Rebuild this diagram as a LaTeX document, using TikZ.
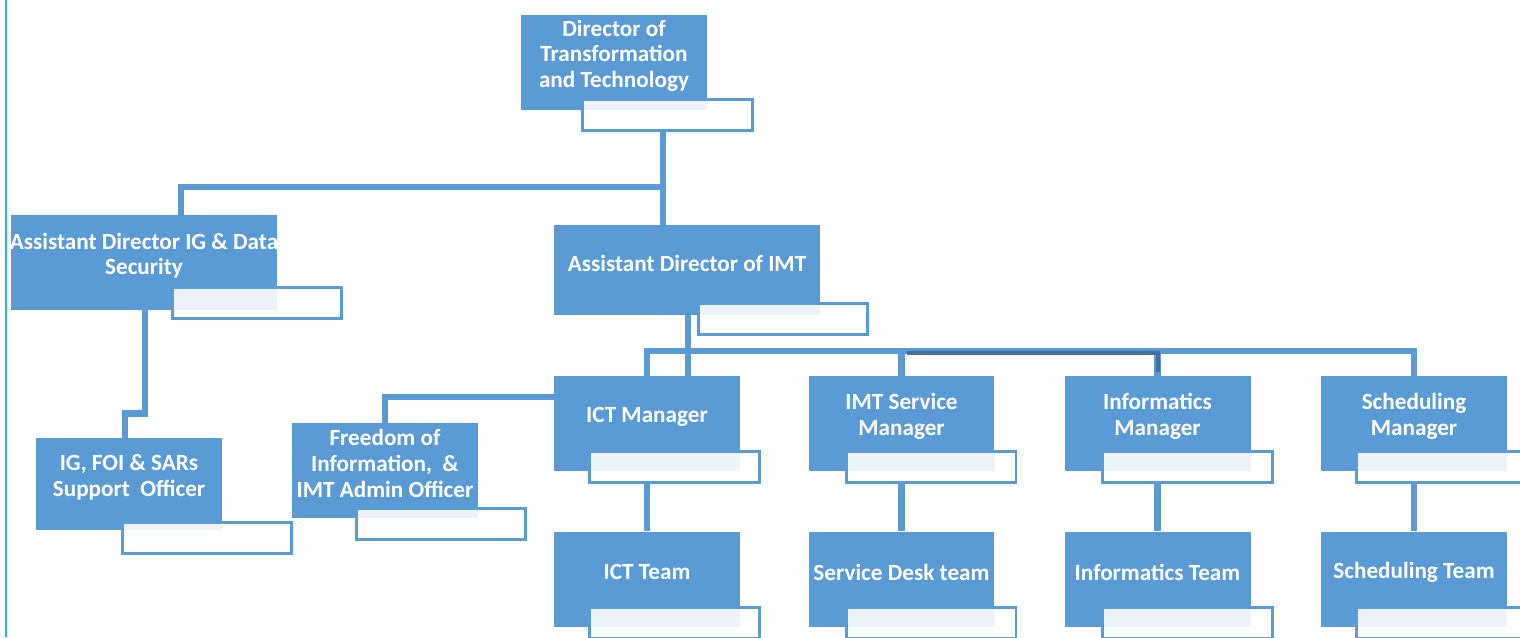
\documentclass[tikz,border=0pt]{standalone}
\usepackage{fontspec}
\setmainfont{Carlito}
\definecolor{unitblue}{HTML}{5B9BD5}
\definecolor{unitdark}{HTML}{41719C}
\definecolor{namefill}{HTML}{EEF3FA}
\definecolor{edgecyan}{HTML}{22B0F0}
\tikzset{
    unit/.style={fill=unitblue, inner sep=0pt,
        minimum width=3.72cm, minimum height=1.9cm},
    wide/.style={minimum width=5.32cm},
    unit text/.style={text=white, align=center, yshift=0.14cm,
        font=\bfseries\fontsize{13.2}{14.6}\selectfont},
    namebox/.style={draw=unitblue, line width=0.06cm, fill=white,
        inner sep=0pt, minimum width=3.4cm, minimum height=0.62cm},
    link/.style={draw=unitblue, line width=0.13cm}
}
\begin{document}
\begin{tikzpicture}[x=0.02cm, y=-0.02cm]

    \useasboundingbox (0,0) rectangle (1520,637);
    \clip (0,0) rectangle (1520,637);
    \draw[edgecyan, line width=0.05cm] (6,0) -- (6,637);

    % top levels
    \node[unit, label={[unit text]center:Director of\\Transformation\\and Technology}] (dir) at (614,62.5){};
    \node[unit, wide, label={[unit text]center:Assistant Director IG \& Data\\Security}] (adig) at (144,262.5){};
    \node[unit, wide, minimum height=1.8cm, label={[unit text]center:Assistant Director of IMT}] (adimt) at (687,270){};

    % managers and officers
    \node[unit, label={[unit text]center:ICT Manager}] (ict) at (647,423.5){};
    \node[unit, label={[unit text]center:IMT Service\\Manager}] (imts) at (901.5,423.5){};
    \node[unit, label={[unit text]center:Informatics\\Manager}] (infm) at (1157.5,423.5){};
    \node[unit, label={[unit text]center:Scheduling\\Manager}] (schm) at (1414,423.5){};
    \node[unit, minimum height=1.84cm, label={[unit text]center:IG, FOI \& SARs\\Support~ Officer}] (igfoi) at (129,484){};
    \node[unit, label={[unit text]center:Freedom of\\Information,~ \&\\IMT Admin Officer}] (foi) at (385,470.5){};

    % teams
    \node[unit, label={[unit text]center:ICT Team}] (ictt) at (647,579){};
    \node[unit, label={[unit text]center:Service Desk team}] (sdt) at (901.5,579){};
    \node[unit, label={[unit text]center:Informatics Team}] (inft) at (1157.5,579){};
    \node[unit, label={[unit text]center:Scheduling Team}] (scht) at (1414,579){};

    % name boxes, pale where they lie over the unit
    \foreach \u/\x/\y in {dir/667.5/115, adig/257/303, adimt/783/318.5,
        ict/674.5/467, imts/931/467, infm/1187/467, schm/1441/467,
        igfoi/207/538, foi/441/523.5,
        ictt/674.5/623, sdt/931/623, inft/1187/623, scht/1441/623}{
        \node[namebox] (\u-nm) at (\x,\y){};
        \fill[namefill] ([shift={(3,3)}]\u-nm.north west) rectangle (\u.south east);
    }

    % connectors
    \coordinate (top-split) at (663,187);
    \coordinate (imt-split) at (688,351);
    \draw[link] (dir-nm.south -| top-split) -- (top-split |- adimt.north);
    \draw[link] (top-split) -| ([xshift=0.74cm]adig.north);
    \draw[link] (adimt.south -| imt-split) -- (imt-split |- ict.north);
    \draw[link] (ict.north) |- (imt-split -| schm) -- (schm.north);
    \foreach \m in {imts, infm}
        \draw[link] (imt-split -| \m) -- (\m.north);
    \draw[unitdark, line width=0.08cm] (907,352.5) -| (1158,372);
    \foreach \m/\t in {ict/ictt, imts/sdt, infm/inft, schm/scht}
        \draw[link] (\m-nm.south -| \m) -- (\t.north);
    \draw[link] ([xshift=0.02cm]adig.south) -- ++(0,103) -| ([xshift=-0.08cm]igfoi.north);
    \draw[link] ([yshift=0.53cm]ict.west) -| (foi.north);

\end{tikzpicture}
\end{document}
